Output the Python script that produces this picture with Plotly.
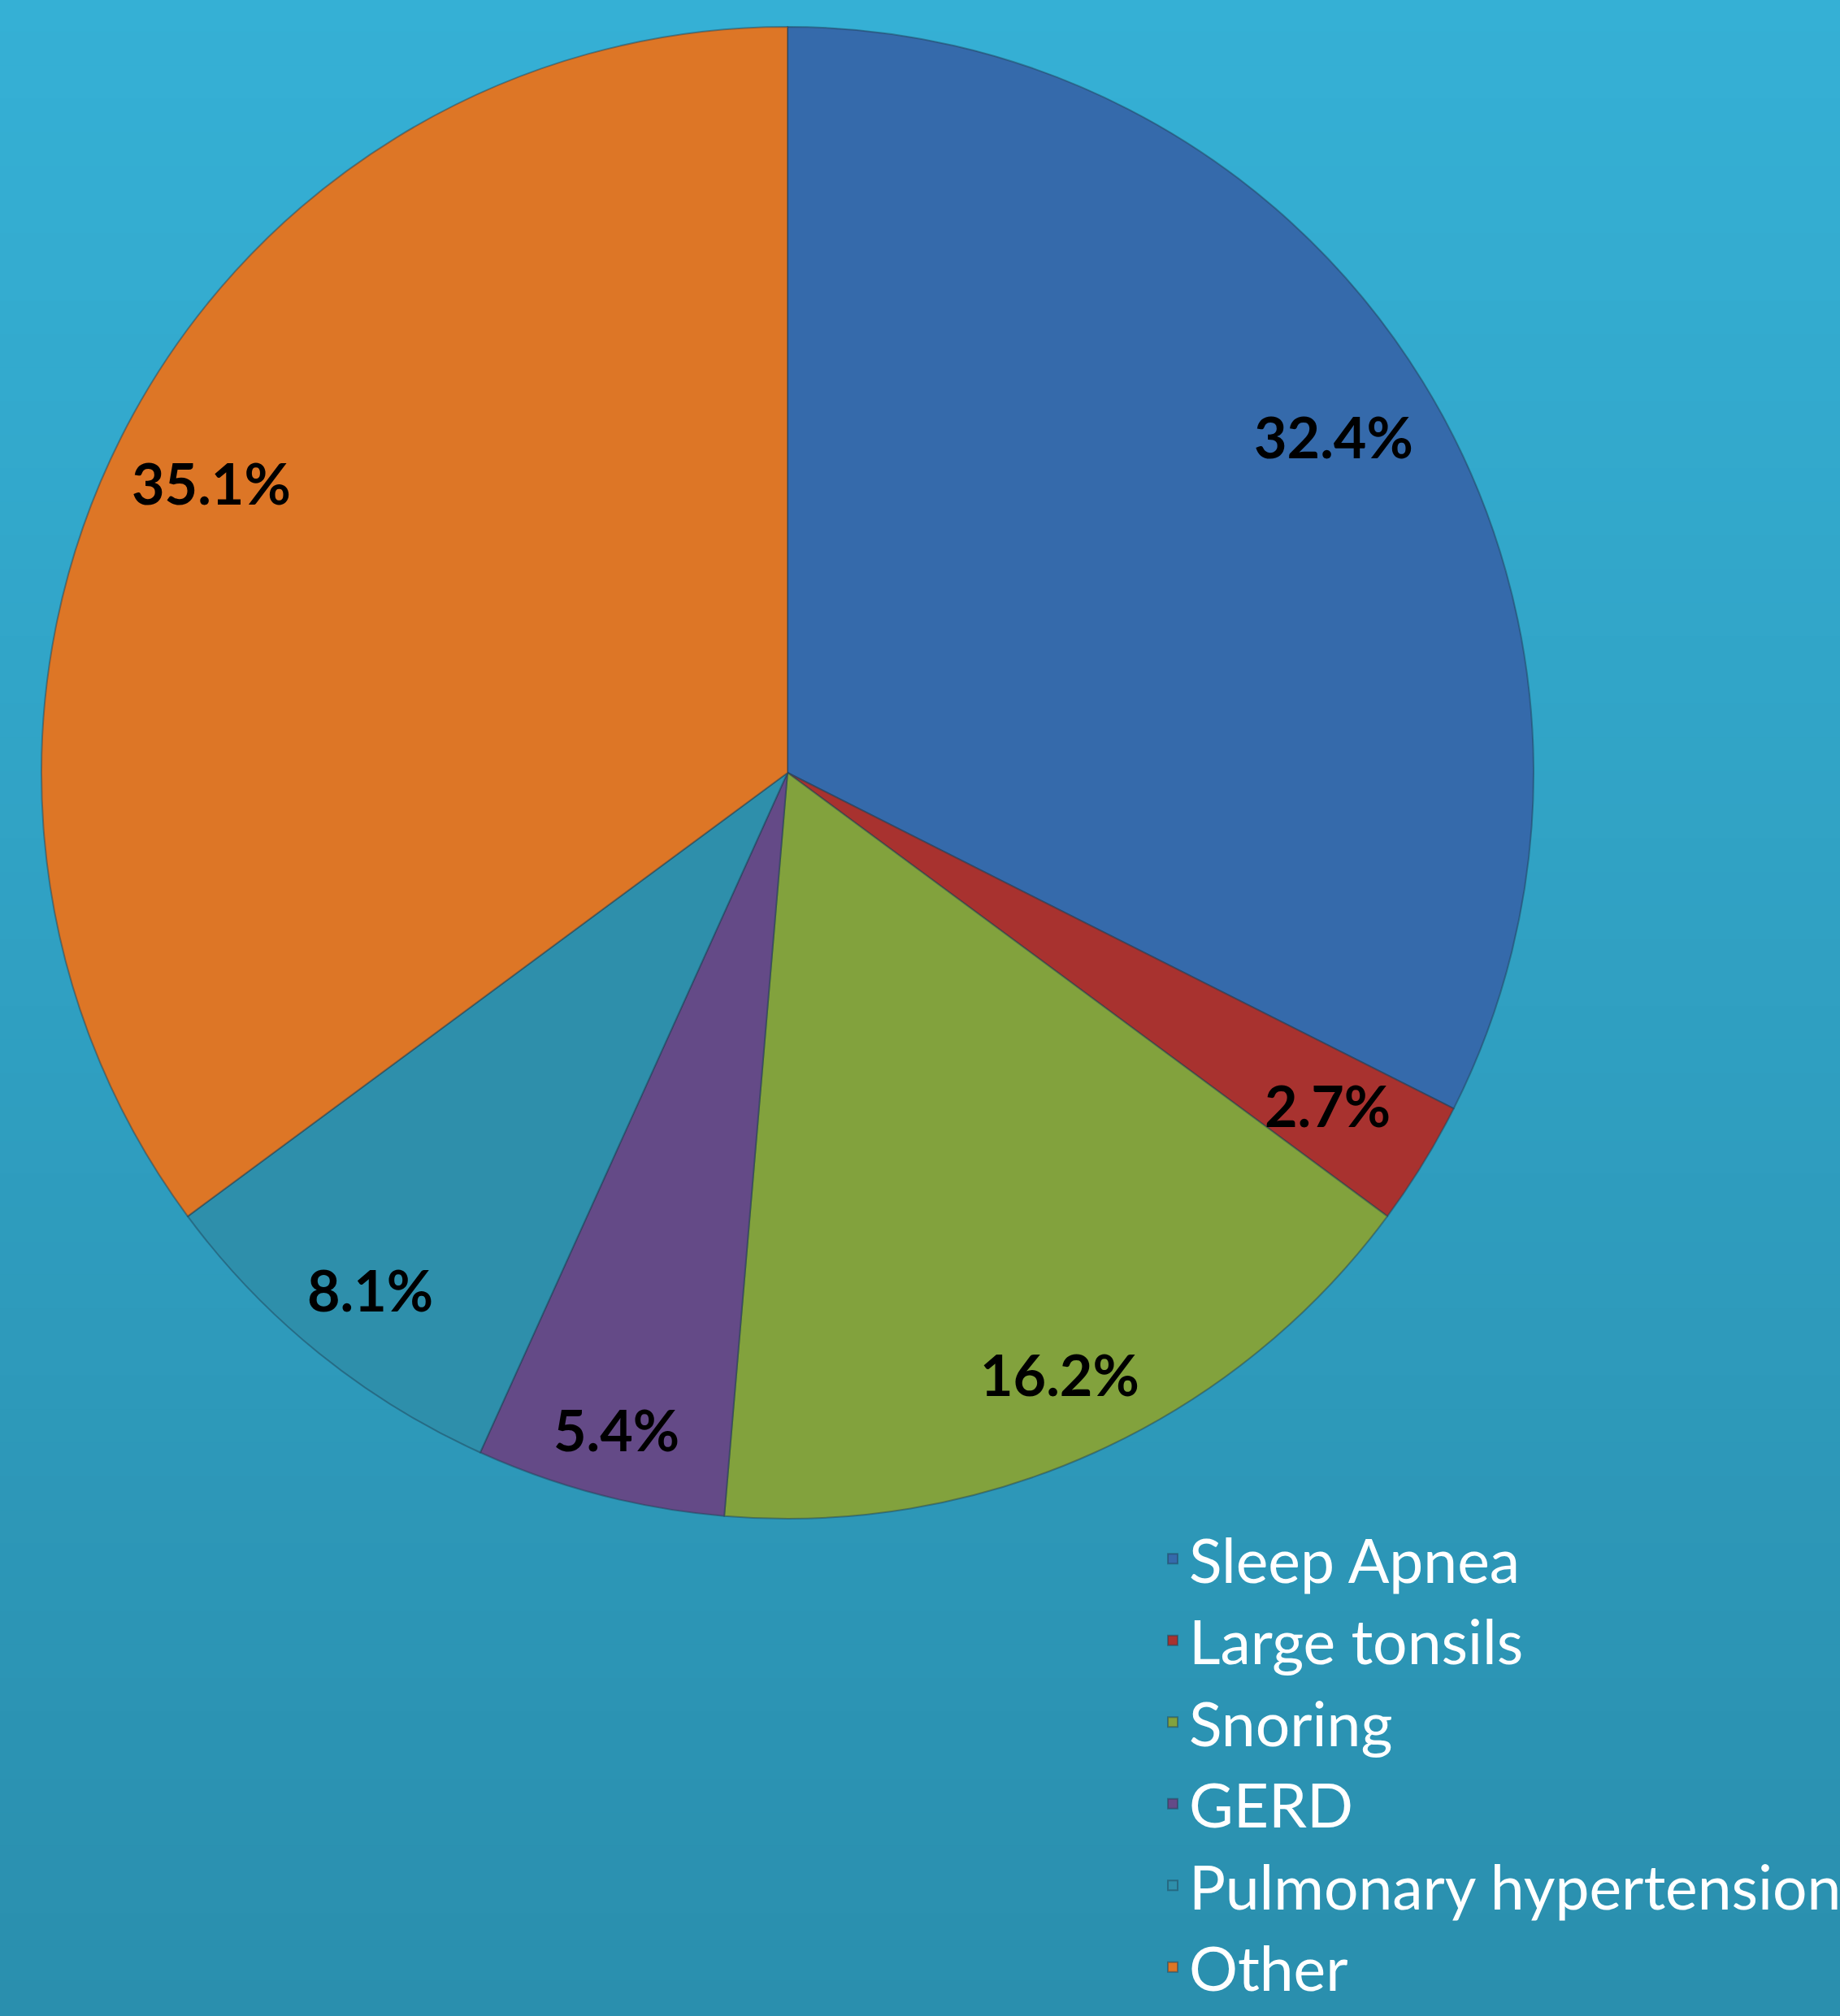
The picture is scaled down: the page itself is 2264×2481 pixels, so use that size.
import math
import plotly.graph_objects as go

# ---- data ----
labels = ["Sleep Apnea", "Large tonsils", "Snoring", "GERD", "Pulmonary hypertension", "Other"]
values = [32.4, 2.7, 16.2, 5.4, 8.1, 35.1]
colors = ["#356AAB", "#A8322F", "#82A23D", "#644A87", "#2E8FAB", "#DD7626"]
# radial placement of the percentage labels (fraction of the radius)
label_r = [0.86, 0.85, 0.885, 0.91, 0.89, 0.865]

W, H = 2264, 2481
cx, cy, R = 969, 951, 918  # pie centre / radius in px

fig = go.Figure()
fig.add_trace(go.Pie(
    labels=labels, values=values, sort=False, direction="clockwise", rotation=0,
    marker=dict(colors=colors, line=dict(color="rgba(30,60,80,0.45)", width=2)),
    textinfo="none", hoverinfo="label+percent",
    domain=dict(x=[(cx - R) / W, (cx + R) / W], y=[1 - (cy + R) / H, 1 - (cy - R) / H]),
))

# background vertical gradient
top = (0x35, 0xB0, 0xD5)
bot = (0x2A, 0x8F, 0xAE)
n = 60
shapes = []
for i in range(n):
    t = i / (n - 1)
    c = tuple(round(top[k] + (bot[k] - top[k]) * t) for k in range(3))
    shapes.append(dict(type="rect", xref="paper", yref="paper", x0=0, x1=1,
                       y0=1 - (i + 1) / n, y1=1 - i / n + 0.001, layer="below",
                       line=dict(width=0), fillcolor="rgb(%d,%d,%d)" % c))

# percentage labels along slice mid-angles
total = sum(values)
annotations = []
cum = 0.0
for v, fr in zip(values, label_r):
    mid = (cum + v / 2) / total * 2 * math.pi
    cum += v
    r = fr * R
    px = cx + r * math.sin(mid)
    py = cy - r * math.cos(mid)
    annotations.append(dict(x=px / W, y=1 - py / H, xref="paper", yref="paper",
                            xanchor="center", yanchor="middle",
                            text="%.1f%%" % v, showarrow=False,
                            font=dict(family="Lato", size=70, color="black", weight="bold")))

fig.update_layout(
    width=W, height=H, autosize=False,
    margin=dict(l=0, r=0, t=0, b=0, autoexpand=False),
    paper_bgcolor="#30A0C2", plot_bgcolor="rgba(0,0,0,0)",
    shapes=shapes, annotations=annotations,
    showlegend=True,
    legend=dict(x=1423 / W, y=1 - 1863 / H, xanchor="left", yanchor="top",
                font=dict(family="Lato", size=75, color="white"),
                bgcolor="rgba(0,0,0,0)", traceorder="normal"),
)
fig.write_html("out.html")
